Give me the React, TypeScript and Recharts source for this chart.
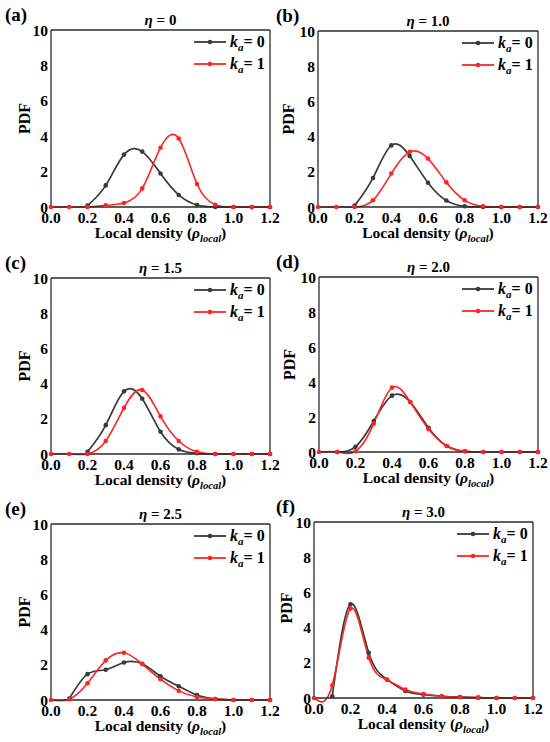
import { LineChart, Line, XAxis, YAxis, ReferenceLine } from "recharts";

// local density bins (x) and axis ticks
const RHO = [0, 0.1, 0.2, 0.3, 0.4, 0.5, 0.6, 0.7, 0.8, 0.9, 1.0, 1.1, 1.2];
const X_TICKS = [0, 0.2, 0.4, 0.6, 0.8, 1.0, 1.2];
const Y_TICKS = [0, 2, 4, 6, 8, 10];

// PDF values, k_a = 0 (grey) and k_a = 1 (red)
const A_KA0 = [null, null, 0.08, 1.22, 2.96, 3.13, 1.89, 0.68, 0.11, 0, 0, 0, 0];
const A_KA1 = [0, 0, 0, 0.09, 0.23, 1.05, 3.35, 3.87, 1.3, 0.13, 0, 0, 0];
const B_KA0 = [null, null, 0.08, 1.65, 3.5, 2.9, 1.38, 0.37, 0.04, 0, 0, 0, 0];
const B_KA1 = [0, 0, 0, 0.38, 1.9, 3.13, 2.75, 1.4, 0.38, 0.04, 0, 0, 0];
const C_KA0 = [null, null, 0.12, 1.64, 3.56, 3.14, 1.26, 0.26, 0.04, 0, 0, 0, 0];
const C_KA1 = [0, 0, 0, 0.74, 2.62, 3.64, 2.14, 0.74, 0.12, 0, 0, 0, 0];
const D_KA0 = [null, 0, 0.3, 1.77, 3.22, 2.86, 1.38, 0.34, 0.04, 0, 0, 0, 0];
const D_KA1 = [0, 0, 0.04, 1.62, 3.68, 2.86, 1.31, 0.34, 0.04, 0, 0, 0, 0];
const E_KA0 = [null, 0.08, 1.47, 1.72, 2.13, 2.06, 1.35, 0.78, 0.28, 0.06, 0, 0, 0];
const E_KA1 = [0, 0.04, 0.95, 2.25, 2.68, 2.04, 1.18, 0.52, 0.17, 0.06, 0, 0, 0];
const F_KA0 = [null, 0.1, 5.33, 2.57, 1.05, 0.4, 0.19, 0.1, 0.05, 0.02, 0, 0, 0];
const F_KA1 = [0, 0.72, 5.08, 2.29, 1.03, 0.48, 0.23, 0.1, 0.05, 0.02, 0, 0, 0];

const GREY = "#3a3a3a";
const RED = "#ff2424";
const AXIS = "#2a2a2a";
const FONT = '"Liberation Serif", "Times New Roman", serif';

const PANELS = [
  { tag: "(a)", eta: "0", ka0: A_KA0, ka1: A_KA1, box: [51, 30, 270, 207], pdfX: 24, pdfDy: 0, tagX: 5 },
  { tag: "(b)", eta: "1.0", ka0: B_KA0, ka1: B_KA1, box: [318, 31, 538, 207], pdfX: 288, pdfDy: 0, tagX: 276 },
  { tag: "(c)", eta: "1.5", ka0: C_KA0, ka1: C_KA1, box: [51, 278, 270, 454], pdfX: 24, pdfDy: 0, tagX: 5 },
  { tag: "(d)", eta: "2.0", ka0: D_KA0, ka1: D_KA1, box: [319, 277, 538, 452], pdfX: 289, pdfDy: 0, tagX: 276 },
  { tag: "(e)", eta: "2.5", ka0: E_KA0, ka1: E_KA1, box: [51, 524, 270, 700], pdfX: 24, pdfDy: 0, tagX: 5 },
  { tag: "(f)", eta: "3.0", ka0: F_KA0, ka1: F_KA1, box: [314, 522, 533, 698], pdfX: 286, pdfDy: -2, tagX: 276 },
];

const TICK = { fontSize: 15.5, fontWeight: "bold", fill: "#000", fontFamily: FONT };

const Panel = ({ p }: { p: (typeof PANELS)[number] }) => {
  const [L, T, R, B] = p.box;
  const rows = RHO.map((x, i) => ({ x, ka0: p.ka0[i], ka1: p.ka1[i] }));
  return (
    <div style={{ position: "absolute", left: L - 48, top: T - 12 }}>
      <LineChart
        width={R - L + 66}
        height={B - T + 52}
        data={rows}
        margin={{ top: 12, right: 18, bottom: 0, left: 0 }}
      >
        <XAxis
          dataKey="x"
          type="number"
          domain={[0, 1.2]}
          ticks={X_TICKS}
          interval={0}
          tickFormatter={(v) => Number(v).toFixed(1)}
          height={40}
          tickLine={false}
          tickSize={5}
          tickMargin={0}
          stroke={AXIS}
          strokeWidth={1.3}
          tick={TICK}
        />
        <YAxis
          type="number"
          domain={[0, 10]}
          ticks={Y_TICKS}
          interval={0}
          width={48}
          tickLine={false}
          tickSize={3}
          tickMargin={0}
          stroke={AXIS}
          strokeWidth={1.3}
          tick={TICK}
        />
        <ReferenceLine y={10} stroke={AXIS} strokeWidth={1.3} />
        <ReferenceLine x={1.2} stroke={AXIS} strokeWidth={1.3} />
        <Line
          dataKey="ka0"
          type="natural"
          stroke={GREY}
          strokeWidth={1.7}
          dot={{ r: 2.3, fill: GREY, stroke: GREY, strokeWidth: 0 }}
          isAnimationActive={false}
        />
        <Line
          dataKey="ka1"
          type="natural"
          stroke={RED}
          strokeWidth={1.6}
          dot={{ r: 2.3, fill: RED, stroke: RED, strokeWidth: 0 }}
          isAnimationActive={false}
        />
      </LineChart>
    </div>
  );
};

const LegendRow = ({ x, y, color, value }: { x: number; y: number; color: string; value: string }) => (
  <g>
    <line x1={x} y1={y} x2={x + 32} y2={y} stroke={color} strokeWidth={1.8} />
    <circle cx={x + 16} cy={y} r={2.3} fill={color} />
    <text x={x + 36} y={y + 5} fontSize={16} fontWeight="bold" fontFamily={FONT}>
      <tspan fontStyle="italic">k</tspan>
      <tspan fontStyle="italic" fontSize={11} dy={4}>a</tspan>
      <tspan dy={-4}>= {value}</tspan>
    </text>
  </g>
);

const Labels = ({ p }: { p: (typeof PANELS)[number] }) => {
  const [L, T, R, B] = p.box;
  const cx = (L + R) / 2;
  const cy = (T + B) / 2 + p.pdfDy;
  return (
    <g fontFamily={FONT} fontWeight="bold" fill="#000">
      <text x={p.tagX} y={T - 9} fontSize={19}>{p.tag}</text>
      <text x={cx} y={T - 5} fontSize={15} textAnchor="middle">
        <tspan fontStyle="italic">η</tspan> = {p.eta}
      </text>
      <text
        x={p.pdfX}
        y={cy}
        fontSize={16}
        textAnchor="middle"
        dominantBaseline="central"
        transform={`rotate(-90 ${p.pdfX} ${cy})`}
      >
        PDF
      </text>
      <text x={cx} y={B + 31} fontSize={15.5} textAnchor="middle">
        Local density (<tspan fontStyle="italic">ρ</tspan>
        <tspan fontStyle="italic" fontSize={10.5} dy={4}>local</tspan>
        <tspan dy={-4}>)</tspan>
      </text>
      <LegendRow x={R - 76} y={T + 12} color={GREY} value="0" />
      <LegendRow x={R - 76} y={T + 34} color={RED} value="1" />
    </g>
  );
};

export default function App() {
  return (
    <div style={{ position: "absolute", left: 0, top: 0, width: 550, height: 742, background: "#fff", overflow: "hidden" }}>
      {PANELS.map((p) => (
        <Panel key={p.tag} p={p} />
      ))}
      <svg
        width={550}
        height={742}
        style={{ position: "absolute", left: 0, top: 0, pointerEvents: "none" }}
      >
        {PANELS.map((p) => (
          <Labels key={p.tag} p={p} />
        ))}
      </svg>
    </div>
  );
}
